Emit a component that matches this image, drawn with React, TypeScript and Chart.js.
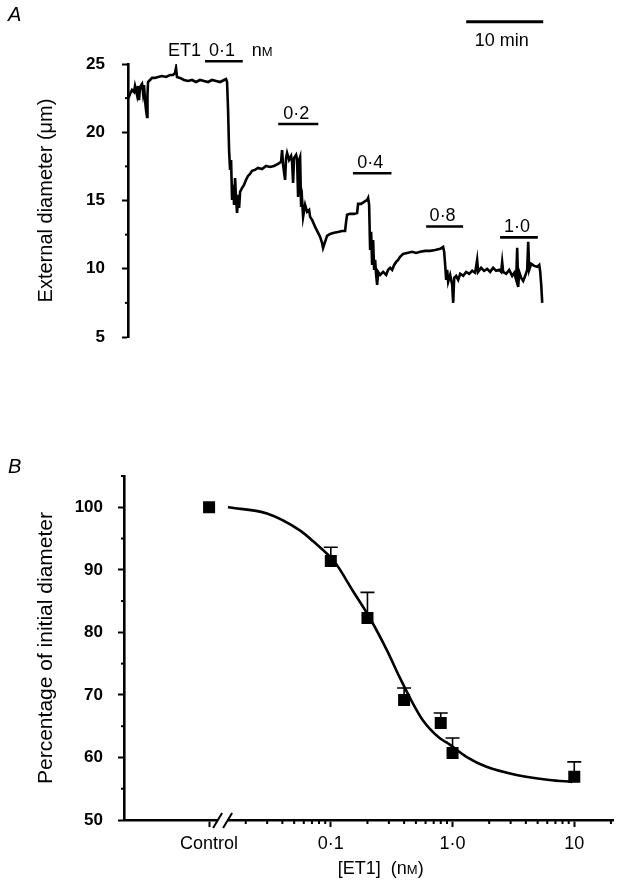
import React, { useEffect, useRef } from 'react';
import { Chart, registerables } from 'chart.js';

Chart.register(...registerables);

const FONT = "'Liberation Sans', Arial, Helvetica, sans-serif";

// ---------------- Panel A: diameter trace ----------------
const traceTime = [
  0.06, 0.26, 0.52, 0.78, 0.91, 1.17, 1.30, 1.43, 1.56, 1.82,
  1.95, 2.08, 2.21, 2.34, 2.47, 2.53, 2.60, 2.86, 3.12, 3.51,
  3.90, 4.42, 4.94, 5.45, 5.84, 6.10, 6.23, 6.36, 6.75, 7.27,
  7.79, 8.31, 8.83, 9.35, 9.87, 10.39, 10.91, 11.43, 11.95, 12.47,
  12.73, 12.86, 12.99, 13.12, 13.25, 13.38, 13.51, 13.64, 13.77, 13.90,
  14.03, 14.16, 14.29, 14.42, 14.55, 14.81, 15.06, 15.32, 15.58, 15.84,
  16.10, 16.49, 16.88, 17.40, 17.92, 18.44, 18.96, 19.48, 19.87, 20.00,
  20.13, 20.39, 20.52, 20.65, 20.91, 21.17, 21.30, 21.43, 21.56, 21.82,
  21.95, 22.08, 22.21, 22.34, 22.47, 22.60, 22.73, 22.99, 23.25, 23.51,
  23.64, 23.90, 24.29, 24.68, 24.94, 25.19, 25.32, 25.58, 25.84, 26.23,
  26.75, 27.27, 27.79, 28.18, 28.31, 28.44, 28.83, 29.35, 29.74, 29.87,
  30.26, 30.65, 31.04, 31.17, 31.30, 31.43, 31.56, 31.69, 31.82, 31.95,
  32.08, 32.21, 32.34, 32.47, 32.73, 33.12, 33.51, 33.77, 34.03, 34.29,
  34.55, 34.81, 35.06, 35.32, 35.71, 36.23, 36.88, 37.40, 37.92, 38.57,
  39.22, 39.87, 40.52, 40.91, 41.04, 41.17, 41.30, 41.43, 41.56, 41.82,
  42.08, 42.21, 42.34, 42.60, 42.86, 43.12, 43.51, 43.90, 44.29, 44.68,
  45.06, 45.32, 45.45, 45.84, 46.23, 46.62, 47.01, 47.40, 47.79, 48.18,
  48.44, 48.57, 48.70, 49.09, 49.48, 49.87, 50.13, 50.39, 50.52, 50.65,
  50.78, 51.04, 51.30, 51.56, 51.82, 51.95, 52.08, 52.34, 52.73, 53.12,
  53.38, 53.51, 53.64, 53.77,
];
const traceDiam = [
  22.51, 22.80, 23.10, 22.95, 23.39, 22.73, 23.39, 22.36, 23.32, 23.54,
  22.88, 23.46, 22.36, 21.63, 21.12, 22.73, 23.68, 23.83, 23.98, 23.98,
  24.05, 24.12, 24.05, 24.19, 24.19, 24.34, 24.71, 24.05, 23.98, 23.83,
  23.76, 23.83, 23.68, 23.83, 23.76, 23.68, 23.83, 23.76, 23.68, 23.83,
  23.90, 23.68, 21.63, 18.70, 17.24, 17.97, 15.04, 16.14, 14.68, 16.65,
  15.04, 14.09, 15.41, 14.46, 15.63, 15.92, 16.14, 16.51, 16.80, 16.95,
  17.17, 17.24, 17.39, 17.31, 17.53, 17.46, 17.53, 17.68, 17.83, 18.70,
  17.61, 16.51, 18.12, 18.48, 17.97, 18.26, 17.83, 16.29, 18.12, 18.34,
  17.97, 15.26, 17.97, 18.19, 14.53, 15.04, 13.80, 14.68, 14.17, 14.31,
  13.80, 13.58, 13.07, 12.63, 12.33, 11.90, 11.53, 11.97, 12.41, 12.55,
  12.63, 12.70, 12.77, 12.77, 13.43, 13.95, 14.02, 14.02, 14.09, 14.75,
  14.75, 14.90, 15.04, 15.19, 14.68, 11.38, 12.70, 10.28, 12.11, 9.92,
  10.65, 9.55, 8.82, 9.77, 9.55, 9.77, 9.55, 9.92, 10.07, 9.92,
  10.28, 10.50, 10.65, 10.87, 11.09, 11.16, 11.24, 11.16, 11.24, 11.31,
  11.31, 11.38, 11.46, 11.60, 11.24, 10.28, 9.19, 9.92, 9.04, 9.55,
  8.82, 7.50, 9.33, 9.48, 9.19, 9.63, 9.48, 9.77, 9.63, 9.85,
  9.70, 10.65, 9.77, 10.07, 9.85, 9.99, 9.77, 10.07, 9.85, 9.92,
  9.77, 10.50, 9.77, 9.63, 9.92, 9.48, 9.70, 9.19, 11.53, 8.67,
  9.77, 9.33, 9.11, 9.48, 9.92, 11.97, 9.92, 10.36, 10.21, 10.14,
  10.28, 9.77, 8.82, 7.50,
];
const diamMinorTicks = [7.5, 12.5, 17.5, 22.5];
const doseLabels = ['0·1', '0·2', '0·4', '0·8', '1·0'];
const doseStart = [10.0, 19.5, 29.2, 38.7, 48.3];
const doseEnd = [14.9, 24.7, 34.2, 43.5, 53.2];
const doseBarDiam = [25.2, 20.6, 17.0, 13.1, 12.3];
const scaleBarMin = [43.9, 53.9];
const scaleBarDiam = 28.1;

// ---------------- Panel B: concentration-response ----------------
const concValues = [0.01, 0.1, 0.2, 0.4, 0.8, 1.0, 10]; // Control plotted at 0.01
const meanPct = [100, 91.4, 82.3, 69.2, 65.5, 60.7, 56.9];
const semPct = [0, 2.2, 4.1, 1.9, 1.6, 2.4, 2.4];
const fitConc = [0.0143, 0.0299, 0.0557, 0.0712, 0.108, 0.151, 0.209, 0.288, 0.368, 0.445, 0.568, 0.782, 0.893, 1.3, 1.9, 3.35, 6.24, 9.64];
const fitPct = [100.0, 99.0, 96.3, 94.6, 91.2, 86.7, 82.3, 77.2, 72.8, 69.6, 66.0, 63.1, 62.4, 60.1, 58.5, 57.2, 56.4, 56.1];
const xMajorTicks = [0.01, 0.1, 1, 10];
const xTickLabels = ['Control', '0·1', '1·0', '10'];
const xMinorTicks = [0.02, 0.03, 0.04, 0.05, 0.06, 0.07, 0.08, 0.09, 0.2, 0.3, 0.4, 0.5, 0.6, 0.7, 0.8, 0.9, 2, 3, 4, 5, 6, 7, 8, 9, 20];
const pctMinorTicks = [55, 65, 75, 85, 95, 105];

function drawSmallCapsUnit(ctx: CanvasRenderingContext2D, x: number, y: number, size: number, prefix: string, suffix: string, align: 'left' | 'center') {
  ctx.font = `${size}px ${FONT}`;
  const w1 = ctx.measureText(prefix + 'n').width;
  const small = Math.round(size * 0.72);
  ctx.font = `${small}px ${FONT}`;
  const w2 = ctx.measureText('M').width;
  ctx.font = `${size}px ${FONT}`;
  const w3 = ctx.measureText(suffix).width;
  const total = w1 + w2 + w3;
  const sx = align === 'left' ? x : x - total / 2;
  ctx.textAlign = 'left';
  ctx.fillText(prefix + 'n', sx, y);
  ctx.font = `${small}px ${FONT}`;
  ctx.fillText('M', sx + w1, y);
  ctx.font = `${size}px ${FONT}`;
  ctx.fillText(suffix, sx + w1 + w2, y);
}

const panelAPlugin = {
  id: 'panelAExtras',
  afterDraw(chart: any) {
    const { ctx, scales, chartArea } = chart;
    const x = scales.x;
    const y = scales.y;
    ctx.save();
    ctx.strokeStyle = '#000';
    ctx.fillStyle = '#000';
    ctx.lineWidth = 2;
    diamMinorTicks.forEach((v) => {
      const py = y.getPixelForValue(v);
      ctx.beginPath();
      ctx.moveTo(chartArea.left - 3, py);
      ctx.lineTo(chartArea.left, py);
      ctx.stroke();
    });
    ctx.lineWidth = 2.6;
    ctx.textBaseline = 'alphabetic';
    doseLabels.forEach((lab, i) => {
      const x0 = x.getPixelForValue(doseStart[i]);
      const x1 = x.getPixelForValue(doseEnd[i]);
      const py = y.getPixelForValue(doseBarDiam[i]);
      ctx.beginPath();
      ctx.moveTo(x0, py);
      ctx.lineTo(x1, py);
      ctx.stroke();
      ctx.font = `18px ${FONT}`;
      ctx.textAlign = 'center';
      ctx.fillText(lab, (x0 + x1) / 2 - 2, py - 5);
      if (i === 0) {
        ctx.textAlign = 'right';
        ctx.fillText('ET1', x0 - 4, py - 5);
        drawSmallCapsUnit(ctx, x1 + 9, py - 5, 18, '', '', 'left');
      }
    });
    const sx0 = x.getPixelForValue(scaleBarMin[0]);
    const sx1 = x.getPixelForValue(scaleBarMin[1]);
    const sy = y.getPixelForValue(scaleBarDiam);
    ctx.lineWidth = 3;
    ctx.beginPath();
    ctx.moveTo(sx0, sy);
    ctx.lineTo(sx1, sy);
    ctx.stroke();
    ctx.font = `18px ${FONT}`;
    ctx.textAlign = 'center';
    ctx.fillText('10 min', (sx0 + sx1) / 2 - 3, sy + 24);
    ctx.font = `italic 20px ${FONT}`;
    ctx.textAlign = 'left';
    ctx.fillText('A', 8, 21);
    ctx.restore();
  },
};

const panelBPlugin = {
  id: 'panelBExtras',
  afterDraw(chart: any) {
    const { ctx, scales, chartArea } = chart;
    const x = scales.x;
    const y = scales.y;
    ctx.save();
    ctx.strokeStyle = '#000';
    ctx.fillStyle = '#000';
    ctx.lineWidth = 2;
    pctMinorTicks.forEach((v) => {
      const py = y.getPixelForValue(v);
      ctx.beginPath();
      ctx.moveTo(chartArea.left - 3, py);
      ctx.lineTo(chartArea.left, py);
      ctx.stroke();
    });
    xMinorTicks.forEach((v) => {
      const px = x.getPixelForValue(v);
      ctx.beginPath();
      ctx.moveTo(px, chartArea.bottom);
      ctx.lineTo(px, chartArea.bottom + 4);
      ctx.stroke();
    });
    const xc = x.getPixelForValue(0.01);
    const by = chartArea.bottom;
    ctx.fillStyle = '#fff';
    ctx.fillRect(xc + 9, by - 3, 9, 6);
    ctx.fillStyle = '#000';
    ctx.lineWidth = 2;
    [xc + 4, xc + 14].forEach((bx) => {
      ctx.beginPath();
      ctx.moveTo(bx, by + 8);
      ctx.lineTo(bx + 9, by - 7);
      ctx.stroke();
    });
    ctx.lineWidth = 1.6;
    concValues.forEach((c, i) => {
      if (!semPct[i]) return;
      const px = x.getPixelForValue(c);
      const pm = y.getPixelForValue(meanPct[i]);
      const pt = y.getPixelForValue(meanPct[i] + semPct[i]);
      ctx.beginPath();
      ctx.moveTo(px, pm);
      ctx.lineTo(px, pt);
      ctx.moveTo(px - 7, pt);
      ctx.lineTo(px + 7, pt);
      ctx.stroke();
    });
    ctx.textBaseline = 'alphabetic';
    drawSmallCapsUnit(ctx, (chartArea.left + chartArea.right) / 2 + 12, chartArea.bottom + 54, 18, '[ET1]  (', ')', 'center');
    ctx.font = `italic 20px ${FONT}`;
    ctx.textAlign = 'left';
    ctx.fillText('B', 8, 73);
    ctx.restore();
  },
};

function PanelA() {
  const ref = useRef<HTMLCanvasElement>(null);
  useEffect(() => {
    const chart = new Chart(ref.current as HTMLCanvasElement, {
      type: 'line',
      data: {
        datasets: [
          {
            data: traceTime.map((t, i) => ({ x: t, y: traceDiam[i] })),
            borderColor: '#000',
            borderWidth: 2.6,
            pointRadius: 0,
            tension: 0,
          },
        ],
      },
      options: {
        animation: false,
        responsive: false,
        events: [],
        layout: { padding: { top: 64, bottom: 43, left: 0, right: 78 } },
        plugins: { legend: { display: false }, tooltip: { enabled: false } },
        scales: {
          x: { type: 'linear', min: 0, max: 54, display: false },
          y: {
            type: 'linear',
            min: 5,
            max: 25,
            afterFit: (s: any) => { s.width = 128; },
            ticks: { stepSize: 5, color: '#000', padding: 17, font: { family: FONT, size: 17, weight: 'bold' } },
            grid: { display: true, drawOnChartArea: false, drawTicks: true, tickLength: 6, tickWidth: 2, tickColor: '#000' },
            border: { display: true, color: '#000', width: 2.6 },
            title: { display: true, text: 'External diameter (μm)', color: '#000', padding: { top: 34, bottom: 0 }, font: { family: FONT, size: 20 } },
          },
        },
      } as any,
      plugins: [panelAPlugin],
    });
    return () => chart.destroy();
  }, []);
  return <canvas ref={ref} width={622} height={380} style={{ position: 'absolute', left: 0, top: 0, width: 622, height: 380 }} />;
}

function PanelB() {
  const ref = useRef<HTMLCanvasElement>(null);
  useEffect(() => {
    const chart = new Chart(ref.current as HTMLCanvasElement, {
      type: 'scatter',
      data: {
        datasets: [
          {
            type: 'line',
            data: fitConc.map((c, i) => ({ x: c, y: fitPct[i] })),
            borderColor: '#000',
            borderWidth: 2.6,
            pointRadius: 0,
            cubicInterpolationMode: 'monotone',
            fill: false,
          },
          {
            type: 'scatter',
            data: concValues.map((c, i) => ({ x: c, y: meanPct[i] })),
            backgroundColor: '#000',
            borderColor: '#000',
            pointStyle: 'rect',
            pointRadius: 8.5,
            borderWidth: 0,
          },
        ],
      },
      options: {
        animation: false,
        responsive: false,
        events: [],
        layout: { padding: { top: 76, bottom: 0, left: 0, right: 7 } },
        plugins: { legend: { display: false }, tooltip: { enabled: false } },
        scales: {
          x: {
            type: 'logarithmic',
            min: 0.002,
            max: 21,
            afterFit: (s: any) => { s.height = 68; },
            afterBuildTicks: (s: any) => { s.ticks = xMajorTicks.map((v) => ({ value: v })); },
            ticks: {
              autoSkip: false,
              maxRotation: 0,
              color: '#000',
              padding: 6,
              font: { family: FONT, size: 18 },
              callback: (v: any) => {
                const k = xMajorTicks.findIndex((m) => Math.abs(m - Number(v)) / m < 1e-6);
                return k >= 0 ? xTickLabels[k] : '';
              },
            },
            grid: { display: true, drawOnChartArea: false, drawTicks: true, tickLength: 7, tickWidth: 2, tickColor: '#000' },
            border: { display: true, color: '#000', width: 2.6 },
          },
          y: {
            type: 'linear',
            min: 50,
            max: 105,
            afterFit: (s: any) => { s.width = 124; },
            ticks: { stepSize: 10, includeBounds: false, color: '#000', padding: 15, font: { family: FONT, size: 17, weight: 'bold' } },
            grid: { display: true, drawOnChartArea: false, drawTicks: true, tickLength: 6, tickWidth: 2, tickColor: '#000' },
            border: { display: true, color: '#000', width: 2.6 },
            title: { display: true, text: 'Percentage of initial diameter', color: '#000', padding: { top: 34, bottom: 0 }, font: { family: FONT, size: 21 } },
          },
        },
      } as any,
      plugins: [panelBPlugin],
    });
    return () => chart.destroy();
  }, []);
  return <canvas ref={ref} width={622} height={488} style={{ position: 'absolute', left: 0, top: 400, width: 622, height: 488 }} />;
}

export default function App() {
  return (
    <div style={{ position: 'absolute', left: 0, top: 0, width: 622, height: 888, background: '#fff' }}>
      <PanelA />
      <PanelB />
    </div>
  );
}
